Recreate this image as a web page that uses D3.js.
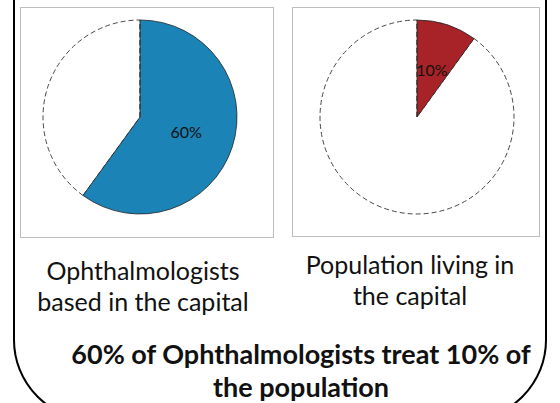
<!DOCTYPE html>
<html>
<head>
<meta charset="utf-8">
<script src="https://cdn.jsdelivr.net/npm/d3@7"></script>
<style>
  body { margin: 0; background: #fff; }
  svg { display: block; }
  text { font-family: Lato, "Open Sans", sans-serif; fill: #111; }
</style>
</head>
<body>
<div id="chart"></div>
<script>
var fw = 560;
var fh = 403;

// values
var shares = [60, 10];
var shareLabels = ["60%", "10%"];
var colors = ["#1b83b5", "#a82327"];
var captions = [
  ["Ophthalmologists", "based in the capital"],
  ["Population living in", "the capital"]
];
var headline = ["60% of Ophthalmologists treat 10% of", "the population"];

// layout
var panels = [
  { x: 20, y: 7, w: 253, h: 230, cx: 140, cy: 117, tx: 143, ty: [280, 311] },
  { x: 292, y: 7, w: 247, h: 229, cx: 417, cy: 117, tx: 410, ty: [274, 305] }
];
var radius = 97;

var svg = d3.select("#chart")
    .append("svg")
    .attr("width", fw)
    .attr("height", fh);

// big rounded frame, top edge is off the page
svg.append("rect")
    .attr("x", 14)
    .attr("y", -120)
    .attr("width", 532)
    .attr("height", 540)
    .attr("rx", 80)
    .attr("ry", 80)
    .attr("fill", "none")
    .attr("stroke", "#000")
    .attr("stroke-width", 2);

var pie = d3.pie().sort(null).value(function(d) { return d; });
var arc = d3.arc().innerRadius(0).outerRadius(radius);

panels.forEach(function(p, i) {
  var g = svg.append("g");

  g.append("rect")
      .attr("x", p.x + 0.5)
      .attr("y", p.y + 0.5)
      .attr("width", p.w)
      .attr("height", p.h)
      .attr("fill", "#fff")
      .attr("stroke", "#bdbdbd")
      .attr("stroke-width", 1);

  var pg = g.append("g")
      .attr("transform", "translate(" + p.cx + "," + p.cy + ")");

  var slices = pie([shares[i], 100 - shares[i]]);

  // remainder first, dashed outline
  pg.append("path")
      .attr("d", arc(slices[1]))
      .attr("fill", "#fff")
      .attr("stroke", "#333")
      .attr("stroke-width", 0.9)
      .attr("stroke-dasharray", "5,3");

  pg.append("path")
      .attr("d", arc(slices[0]))
      .attr("fill", colors[i])
      .attr("stroke", "#222")
      .attr("stroke-width", 0.8);

  // dashed radius at 12 o'clock sits on top
  pg.append("line")
      .attr("x1", 0).attr("y1", 0)
      .attr("x2", 0).attr("y2", -radius)
      .attr("stroke", "#333")
      .attr("stroke-width", 0.9)
      .attr("stroke-dasharray", "5,3");

  var c = arc.centroid(slices[0]);
  pg.append("text")
      .attr("x", c[0])
      .attr("y", c[1])
      .attr("dy", "0.35em")
      .attr("text-anchor", "middle")
      .style("font-size", "16px")
      .text(shareLabels[i]);

  captions[i].forEach(function(line, j) {
    g.append("text")
        .attr("x", p.tx)
        .attr("y", p.ty[j])
        .attr("text-anchor", "middle")
        .style("font-size", "25px")
        .text(line);
  });
});

headline.forEach(function(line, j) {
  svg.append("text")
      .attr("x", 301)
      .attr("y", 364 + j * 33)
      .attr("text-anchor", "middle")
      .style("font-size", "27px")
      .style("font-weight", "bold")
      .text(line);
});
</script>
</body>
</html>
